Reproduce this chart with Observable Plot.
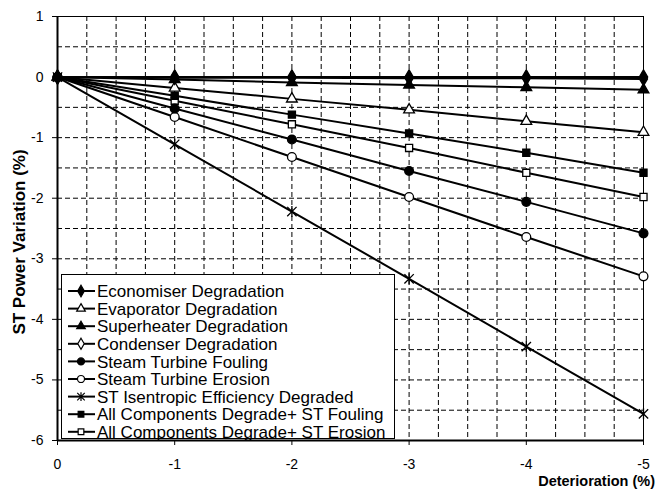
<!DOCTYPE html>
<html>
<head>
<meta charset="utf-8">
<script src="https://cdn.jsdelivr.net/npm/d3@7"></script>
<script src="https://cdn.jsdelivr.net/npm/@observablehq/plot@0.6"></script>
<style>
  html, body { margin: 0; padding: 0; background: white; }
  #chart { width: 659px; height: 491px; }
</style>
</head>
<body>
<div id="chart"></div>
<script>
// ---- data ----
const deterioration = [0, -1, -2, -3, -4, -5];
const seriesNames = [
  "Economiser Degradation",
  "Evaporator Degradation",
  "Superheater Degradation",
  "Condenser Degradation",
  "Steam Turbine Fouling",
  "Steam Turbine Erosion",
  "ST Isentropic Efficiency Degraded",
  "All Components Degrade+ ST Fouling",
  "All Components Degrade+ ST Erosion"
];
const economiser   = [0, 0, 0, 0, 0, 0];
const evaporator   = [0, -0.18, -0.36, -0.54, -0.73, -0.91];
const superheater  = [0, -0.04, -0.09, -0.13, -0.17, -0.21];
const condenser    = [0, -0.01, -0.01, -0.02, -0.02, -0.03];
const stFouling    = [0, -0.52, -1.03, -1.55, -2.06, -2.58];
const stErosion    = [0, -0.66, -1.32, -1.98, -2.64, -3.29];
const stIsentropic = [0, -1.11, -2.22, -3.33, -4.45, -5.56];
const allFouling   = [0, -0.31, -0.62, -0.93, -1.25, -1.58];
const allErosion   = [0, -0.39, -0.78, -1.17, -1.58, -1.98];
const xTicks = [0, -1, -2, -3, -4, -5];
const yTicks = [1, 0, -1, -2, -3, -4, -5, -6];
const xGridTicks = [-0.25, -0.5, -0.75, -1, -1.25, -1.5, -1.75, -2, -2.25, -2.5, -2.75, -3, -3.25, -3.5, -3.75, -4, -4.25, -4.5, -4.75];
const yGridTicks = [0.5, 0, -0.5, -1, -1.5, -2, -2.5, -3, -3.5, -4, -4.5, -5, -5.5];

// custom "star" symbol: X with vertical bar (Excel star marker)
const starSymbol = {
  draw(context, size) {
    const r = Math.sqrt(size / Math.PI);
    const d = r * 0.85;
    context.moveTo(-d, -d); context.lineTo(d, d);
    context.moveTo(d, -d); context.lineTo(-d, d);
    context.moveTo(0, -r); context.lineTo(0, r);
  }
};

const styles = [
  {symbol: "diamond", fill: "black", stroke: "black", r: 4.4},
  {symbol: "triangle", fill: "white", stroke: "black", r: 4},
  {symbol: "triangle", fill: "black", stroke: "black", r: 4},
  {symbol: "diamond", fill: "white", stroke: "black", r: 4.2},
  {symbol: "circle", fill: "black", stroke: "black", r: 4.4},
  {symbol: "circle", fill: "white", stroke: "black", r: 4.4},
  {symbol: starSymbol, fill: "none", stroke: "black", r: 5.5},
  {symbol: "square", fill: "black", stroke: "black", r: 4},
  {symbol: "square", fill: "white", stroke: "black", r: 4}
];

const valuesList = [economiser, evaporator, superheater, condenser, stFouling, stErosion, stIsentropic, allFouling, allErosion];
const table = [];
seriesNames.forEach((name, i) => {
  deterioration.forEach((x, j) => table.push({series: name, idx: i, x, y: valuesList[i][j]}));
});

const fmt = d => String(d);
const font = "'Liberation Sans', Arial, sans-serif";

const marks = [
  Plot.gridX(xGridTicks, {stroke: "black", strokeOpacity: 1, strokeWidth: 1, strokeDasharray: "5,3"}),
  Plot.gridY(yGridTicks, {stroke: "black", strokeOpacity: 1, strokeWidth: 1, strokeDasharray: "5,3"}),
  Plot.frame({stroke: "black", strokeWidth: 1}),
  Plot.ruleX([0], {stroke: "black", strokeWidth: 2}),
  Plot.ruleY([-6], {stroke: "black", strokeWidth: 2}),
  Plot.axisX({ticks: xTicks, tickSize: 5, tickPadding: 14, tickFormat: fmt, label: null, fontSize: 14}),
  Plot.axisY({ticks: yTicks, tickSize: 5, tickPadding: 9, tickFormat: fmt, label: null, fontSize: 14}),
  Plot.line(table, {x: "x", y: "y", z: "series", stroke: "black", strokeWidth: 2})
];
// draw markers in reverse order so the top-listed series stay visible on top
[8, 7, 6, 5, 4, 3, 1, 2, 0].forEach((i) => {
  const s = styles[i];
  marks.push(Plot.dot(table.filter(d => d.idx === i), {
    x: "x", y: "y", symbol: s.symbol, r: s.r, fill: s.fill, stroke: s.stroke, strokeWidth: 1.3
  }));
});

const plot = Plot.plot({
  width: 659,
  height: 491,
  marginLeft: 57,
  marginRight: 16,
  marginTop: 16,
  marginBottom: 51,
  x: {domain: [0, -5]},
  y: {domain: [-6, 1]},
  style: {fontFamily: font, fontSize: "14px", color: "black", background: "white"},
  marks
});

const svg = d3.select(plot);
// axis titles
svg.append("text")
  .attr("transform", "translate(25,242) rotate(-90)")
  .attr("text-anchor", "middle")
  .attr("font-family", font).attr("font-weight", "bold").attr("font-size", 17)
  .attr("fill", "black")
  .text("ST Power Variation (%)");
svg.append("text")
  .attr("x", 655).attr("y", 486)
  .attr("text-anchor", "end")
  .attr("font-family", font).attr("font-weight", "bold").attr("font-size", 14.5)
  .attr("fill", "black")
  .text("Deterioration (%)");

// legend
const lg = svg.append("g").attr("text-anchor", "start");
lg.append("rect").attr("x", 61.5).attr("y", 274.5).attr("width", 333).attr("height", 164)
  .attr("fill", "white").attr("stroke", "black").attr("stroke-width", 1);
seriesNames.forEach((name, i) => {
  const s = styles[i];
  const cy = 291 + 17.6 * i;
  lg.append("line").attr("x1", 68).attr("x2", 95).attr("y1", cy).attr("y2", cy)
    .attr("stroke", "black").attr("stroke-width", 2);
  const type = typeof s.symbol === "string"
    ? {diamond: d3.symbolDiamond, triangle: d3.symbolTriangle, circle: d3.symbolCircle, square: d3.symbolSquare}[s.symbol]
    : s.symbol;
  const lr = s.r * 0.8;
  lg.append("path").attr("d", d3.symbol(type, lr * lr * Math.PI)())
    .attr("transform", `translate(81,${cy})`)
    .attr("fill", s.fill).attr("stroke", s.stroke).attr("stroke-width", 1.2);
  lg.append("text").attr("x", 97).attr("y", cy).attr("dy", "0.36em")
    .attr("text-anchor", "start")
    .attr("font-family", font).attr("font-size", 17).attr("fill", "black")
    .text(name);
});

document.getElementById("chart").appendChild(plot);
</script>
</body>
</html>
